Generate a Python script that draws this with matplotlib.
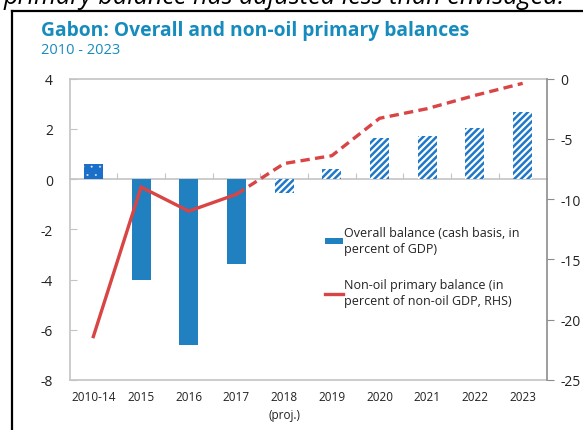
import matplotlib
matplotlib.use("Agg")
import matplotlib.pyplot as plt
from matplotlib.lines import Line2D
from matplotlib.patches import Patch

plt.rcParams['font.family'] = ['Open Sans', 'DejaVu Sans']
plt.rcParams['hatch.linewidth'] = 1.8
plt.rcParams['axes.unicode_minus'] = False

# Gabon fiscal balances, 2010-14 average then annual (2018 onwards projected)
categories = ['2010-14', '2015', '2016', '2017', '2018\n(proj.)',
              '2019', '2020', '2021', '2022', '2023']
overall_balance = [0.6, -4.0, -6.6, -3.4, -0.55, 0.38, 1.65, 1.73, 2.04, 2.65]
nonoil_primary = [-21.4, -9.0, -11.0, -9.6, -7.05, -6.4, -3.3, -2.5, -1.4, -0.4]
first_proj = 4  # index of 2018, first projected year

teal = '#168bbd'
blue = '#2180c0'
red = '#d94444'
grid_gray = '#c4c4c4'

fig = plt.figure(figsize=(5.83, 4.31), dpi=100)
W, H = 583, 431

# text sitting above the chart box, cut by the top edge
fig.text(4 / W, 1 - 4 / H, 'primary balance has adjusted less than envisaged.',
         fontsize=18.2, style='italic', ha='left', va='baseline', color='black')

# black box around the chart
fig.add_artist(Line2D([12 / W, 12 / W], [0, 1 - 12 / H], transform=fig.transFigure,
                      color='black', lw=1.6))
fig.add_artist(Line2D([12 / W, 1.0], [1 - 12 / H, 1 - 12 / H], transform=fig.transFigure,
                      color='black', lw=1.6))

fig.text(41 / W, 1 - 31 / H, 'Gabon: Overall and non-oil primary balances',
         fontsize=13.9, fontweight='bold', color=teal, ha='left', va='center')
fig.text(41 / W, 1 - 50 / H, '2010 - 2023', fontsize=10.5, color=teal,
         ha='left', va='center')

ax = fig.add_axes([69.5 / W, 1 - 381 / H, 477 / W, 301.5 / H])
x = list(range(len(categories)))

for i, v in enumerate(overall_balance):
    if i == 0:
        with plt.rc_context({'hatch.linewidth': 0.2}):
            ax.bar(i, v, width=0.40, color='#1b6fc9', edgecolor='#dfe9f7', linewidth=0,
                   hatch='..', zorder=2)
    elif i < first_proj:
        ax.bar(i, v, width=0.40, color=blue, linewidth=0, zorder=2)
    else:
        ax.bar(i, v, width=0.40, color='white', edgecolor='#1f78c8', linewidth=0,
               hatch='/////', zorder=2)

ax.set_xlim(-0.5, len(categories) - 0.5)
ax.set_ylim(-8, 4)
ax.set_yticks([-8, -6, -4, -2, 0, 2, 4])
ax.set_xticks(x)
ax.set_xticklabels(categories, fontsize=8.5, color='#222222', linespacing=1.5)
ax.tick_params(axis='x', length=0, pad=7)
ax.tick_params(axis='y', direction='in', length=5, color=grid_gray, labelsize=10,
               pad=12, labelcolor='#222222')
for side in ['left', 'top', 'bottom']:
    ax.spines[side].set_color(grid_gray)
    ax.spines[side].set_linewidth(1.2)
ax.spines['right'].set_visible(False)

# zero line with category separators
zero = ax.secondary_xaxis(2 / 3)
zero.set_xticks([i + 0.5 for i in x[:-1]])
zero.tick_params(axis='x', direction='out', length=4.5, color=grid_gray,
                 labeltop=False, labelbottom=False)
zero.spines['top'].set_color(grid_gray)
zero.spines['top'].set_linewidth(1.2)
zero.spines['bottom'].set_visible(False)

ax2 = ax.twinx()
ax2.plot(x[:first_proj], nonoil_primary[:first_proj], color=red, lw=2.4,
         solid_joinstyle='miter', zorder=3)
ax2.plot(x[first_proj - 1:], nonoil_primary[first_proj - 1:], color=red, lw=2.4,
         dashes=(2.8, 1.6), zorder=3)
ax2.set_ylim(-25, 0)
ax2.set_yticks([-25, -20, -15, -10, -5, 0])
ax2.tick_params(axis='y', direction='out', length=5, color='#8c8c8c', labelsize=10,
                pad=5, labelcolor='#222222')
for side in ['left', 'top', 'bottom']:
    ax2.spines[side].set_visible(False)
ax2.spines['right'].set_color('#8c8c8c')
ax2.spines['right'].set_linewidth(1.2)

handles = [Patch(facecolor=blue, edgecolor='none'),
           Line2D([], [], color=red, lw=2.4)]
labels = ['Overall balance (cash basis, in\npercent of GDP)',
          'Non-oil primary balance (in\npercent of non-oil GDP, RHS)']
leg = ax2.legend(handles, labels, loc='upper left',
                 bbox_to_anchor=((325 - 69.5) / 477, (381 - 227) / 301.5),
                 frameon=False, fontsize=9, handlelength=1.4, handleheight=0.4,
                 handletextpad=0.1, labelspacing=1.8, borderpad=0, borderaxespad=0)
for t in leg.get_texts():
    t.set_linespacing(1.33)
    t.set_color('#222222')

fig.savefig('out.png', dpi=100)
